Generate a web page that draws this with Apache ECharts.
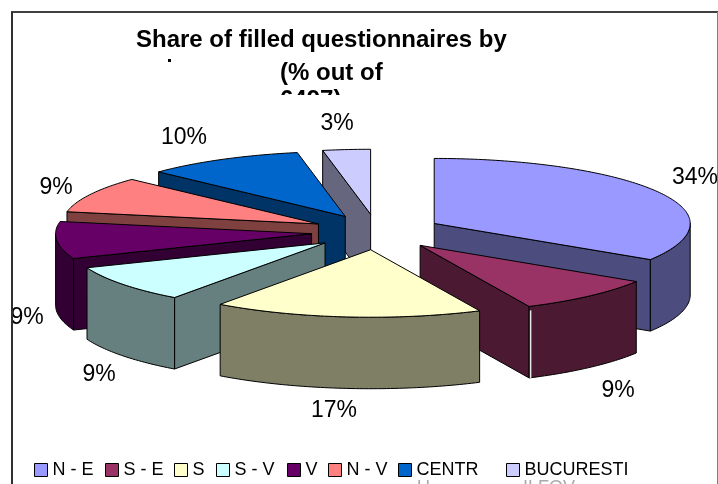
<!DOCTYPE html>
<html><head><meta charset="utf-8">
<style>html,body{margin:0;padding:0;background:#fff}#c{width:718px;height:484px}</style>
<script src="https://cdn.jsdelivr.net/npm/echarts@6/dist/echarts.min.js"></script>
</head><body><div id="c"></div>
<script>
var categories = ['N - E','S - E','S','S - V','V','N - V','CENTR','BUCURESTI'];
var values = [34,9,17,9,9,9,10,3];
var topColors = ['#9999FF','#993366','#FFFFCC','#CCFFFF','#660066','#FF8080','#0066CC','#CCCCFF'];
var sideColors = ['#4C4C7F','#4C1933','#7F7F66','#667F7F','#330033','#7F4040','#003366','#66667F'];
var drawOrder = [7,6,5,4,3,0,1,2];
var legendX = [34,105,174,216,287,328,398,506];
var labelAnchors = [[695,178],[618,391],[334,411],[99,375],[27,318],[56,188],[184,138],[337,124]];

var FONT = '"Liberation Sans", Arial, sans-serif';
var CX = 376.8, CY = 232, RX = 256, RY_BACK = 65, RY_FRONT = 67.5, DEPTH = 71.5, EX = 65.5, EY = 17.8;
var total = values.reduce(function(a,b){return a+b;},0);
var starts = []; (function(){var s=0;values.forEach(function(v){starts.push(s);s+=v/total*360;});})();
function rim(t,ox,oy,d){var r=t*Math.PI/180,c=Math.cos(r);return [ox+RX*Math.sin(r),oy-(c>0?RY_BACK:RY_FRONT)*c+(d||0)];}
function arc(a,b,ox,oy,d){var pts=[],n=Math.max(2,Math.ceil(Math.abs(b-a)));for(var i=0;i<=n;i++)pts.push(rim(a+(b-a)*i/n,ox,oy,d));return pts;}
function poly(pts,fill){return {type:'polygon',shape:{points:pts},style:{fill:fill,stroke:'#000',lineWidth:1,lineJoin:'round'}};}

function makeRender(idx){
  return function(params,api){
    var v=api.value(0);
    var a=starts[idx], b=a+v/total*360, mid=(a+b)/2*Math.PI/180;
    var ox=CX+EX*Math.sin(mid), oy=CY-EY*Math.cos(mid);
    var side=sideColors[idx], kids=[];
    function face(t){var p=rim(t,ox,oy);kids.push(poly([[ox,oy],p,[p[0],p[1]+DEPTH],[ox,oy+DEPTH]],side));}
    if(Math.sin(a*Math.PI/180)<-1e-6) face(a);
    if(Math.sin(b*Math.PI/180)>1e-6) face(b);
    var fa=Math.max(a,90), fb=Math.min(b,270);
    if(fb>fa) kids.push(poly(arc(fa,fb,ox,oy,0).concat(arc(fb,fa,ox,oy,DEPTH)),side));
    if(idx===1){var q=rim(b,ox,oy);kids.push({type:'line',shape:{x1:q[0]+1.5,y1:q[1]+4,x2:q[0]+1.5,y2:q[1]+DEPTH},style:{stroke:'#e8e8e8',lineWidth:1.5}});}
    kids.push(poly([[ox,oy]].concat(arc(a,b,ox,oy,0)),topColors[idx]));
    return {type:'group',children:kids};
  };
}
var series = drawOrder.map(function(i){
  return {type:'custom',name:categories[i],coordinateSystem:'none',silent:true,animation:false,
    itemStyle:{color:topColors[i]},data:[[values[i]]],renderItem:makeRender(i)};
});
var legends = categories.map(function(n,i){
  return {show:true,selectedMode:false,left:legendX[i],top:461,padding:0,itemWidth:13,itemHeight:13,icon:'rect',
    textStyle:{fontFamily:FONT,fontSize:18,color:'#000'},
    data:[{name:n,icon:'rect',itemStyle:{color:topColors[i],borderColor:'#000',borderWidth:1}}]};
});
var labelTexts = values.map(function(v,i){
  return {type:'text',x:labelAnchors[i][0],y:labelAnchors[i][1],z:25,silent:true,
    style:{text:v+'%',fill:'#000',font:'23px '+FONT,align:'center',verticalAlign:'middle'}};
});
function ttl(t,l,tp){return {text:t,left:l,top:tp,padding:0,textStyle:{fontFamily:FONT,fontSize:24,fontWeight:'bold',color:'#000'}};}
var chart = echarts.init(document.getElementById('c'),null,{renderer:'canvas'});
chart.setOption({
  backgroundColor:'#fff',animation:false,
  title:[ttl('Share of filled questionnaires by',136,28),ttl('(% out of',280,61),ttl('6497)',280,88)],
  legend:legends,
  series:series,
  graphic:[
    {type:'rect',z:20,silent:true,shape:{x:200,y:95,width:300,height:22},style:{fill:'#fff'}},
    {type:'rect',z:21,silent:true,shape:{x:168,y:59,width:3,height:3},style:{fill:'#000'}},
    {type:'line',z:30,silent:true,shape:{x1:11,y1:12,x2:718,y2:12},style:{stroke:'#404040',lineWidth:2}},
    {type:'line',z:30,silent:true,shape:{x1:12,y1:12,x2:12,y2:484},style:{stroke:'#303030',lineWidth:2}},
    {type:'line',z:30,silent:true,shape:{x1:717.5,y1:12,x2:717.5,y2:484},style:{stroke:'#808080',lineWidth:1}},
    {type:'text',z:5,silent:true,x:417,y:479,style:{text:'U',fill:'#aaa',font:'18px '+FONT}},
    {type:'text',z:5,silent:true,x:523,y:479,style:{text:'ILFOV',fill:'#aaa',font:'18px '+FONT}}
  ].concat(labelTexts)
});
</script></body></html>
